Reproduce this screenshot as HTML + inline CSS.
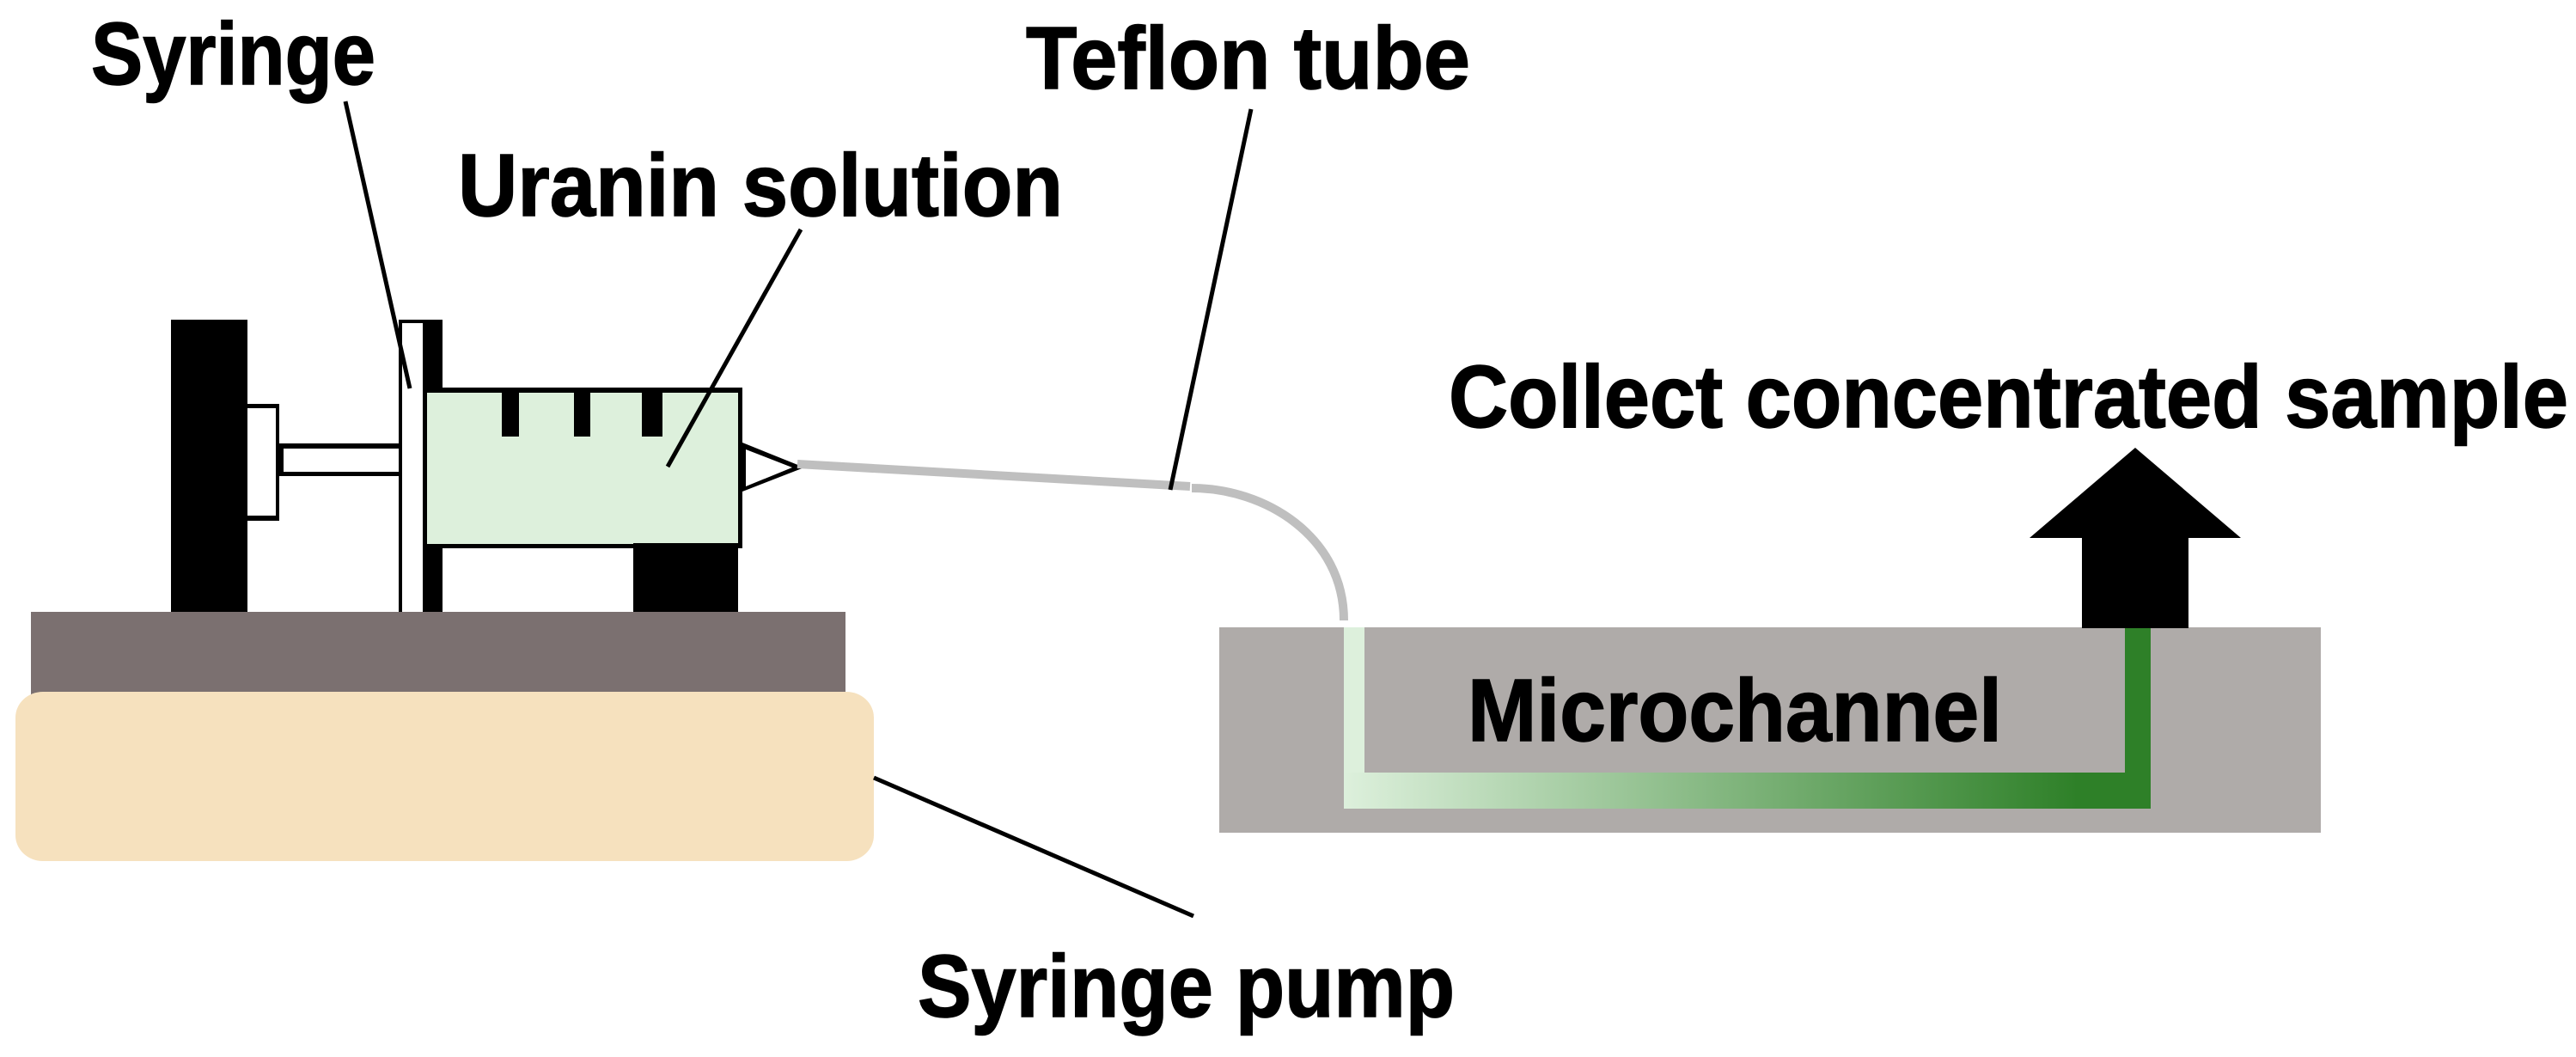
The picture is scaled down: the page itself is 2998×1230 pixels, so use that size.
<!DOCTYPE html>
<html>
<head>
<meta charset="utf-8">
<style>
html,body{margin:0;padding:0;background:#fff;width:2998px;height:1230px;overflow:hidden}
svg{display:block}
text{font-family:"Liberation Sans",sans-serif;font-weight:700;font-size:103px;fill:#000;stroke:#000;stroke-width:1.5px}
</style>
</head>
<body>
<svg width="2998" height="1230" viewBox="0 0 2998 1230" xmlns="http://www.w3.org/2000/svg">
<defs>
<linearGradient id="g" gradientUnits="userSpaceOnUse" x1="1564" y1="0" x2="2503" y2="0">
<stop offset="0" stop-color="#DDF0DC"/>
<stop offset="0.91" stop-color="#2E8028"/>
<stop offset="1" stop-color="#2E8028"/>
</linearGradient>
</defs>
<rect width="2998" height="1230" fill="#fff"/>

<!-- pump base -->
<rect x="36" y="712" width="948" height="100" fill="#7B7070"/>
<rect x="18" y="805" width="999" height="197" rx="32" ry="30" fill="#F6E1BE"/>

<!-- pusher post -->
<rect x="199" y="372" width="89" height="340" fill="#000"/>
<!-- plunger head -->
<rect x="288" y="470" width="37" height="136" fill="#000"/>
<rect x="288" y="475" width="33" height="125" fill="#fff"/>
<!-- plunger rod -->
<rect x="325" y="516" width="140" height="38" fill="#000"/>
<rect x="330" y="522" width="135" height="27" fill="#fff"/>
<!-- plate -->
<rect x="464" y="372" width="51" height="340" fill="#000"/>
<rect x="468" y="376" width="24" height="336" fill="#fff"/>
<!-- foot -->
<rect x="737" y="632" width="122" height="80" fill="#000"/>
<!-- barrel -->
<rect x="493" y="451" width="371" height="187" fill="#000"/>
<rect x="497" y="457" width="362" height="176" fill="#DDF0DC"/>
<rect x="737" y="632" width="122" height="6" fill="#000"/>
<!-- ticks -->
<rect x="584" y="457" width="20" height="51" fill="#000"/>
<rect x="668" y="457" width="19" height="51" fill="#000"/>
<rect x="747" y="457" width="24" height="51" fill="#000"/>
<!-- nozzle -->
<polygon points="864,515 936,544 864,572" fill="#000"/>
<polygon points="868,523 922,544 868,566" fill="#fff"/>

<!-- tube -->
<path d="M928 540 L1385 566" stroke="#BFBFBF" stroke-width="10" fill="none"/>
<path d="M1387 568 C1472 568 1564 624 1564 722" stroke="#BFBFBF" stroke-width="10" fill="none"/>

<!-- microchannel block -->
<rect x="1419" y="730" width="1282" height="239" fill="#AFABA9"/>
<rect x="1564" y="730" width="24" height="170" fill="#DDF0DC"/>
<rect x="2473" y="730" width="30" height="170" fill="#2E8028"/>
<rect x="1564" y="899" width="939" height="42" fill="url(#g)"/>

<!-- arrow -->
<polygon points="2485,521 2608,626 2547,626 2547,731 2423,731 2423,626 2362,626" fill="#000"/>

<!-- leader lines -->
<g stroke="#000" fill="none" stroke-width="5">
<line x1="402" y1="118" x2="477" y2="452"/>
<line x1="932" y1="267" x2="777" y2="543"/>
<line x1="1456" y1="127" x2="1362" y2="570"/>
<line x1="1017" y1="905" x2="1389" y2="1066"/>
</g>

<!-- labels -->
<text x="106" y="98" textLength="331" lengthAdjust="spacingAndGlyphs">Syringe</text>
<text x="1194" y="103" textLength="517" lengthAdjust="spacingAndGlyphs">Teflon tube</text>
<text x="533" y="251" textLength="704" lengthAdjust="spacingAndGlyphs">Uranin solution</text>
<text x="1686" y="497" textLength="1303" lengthAdjust="spacingAndGlyphs">Collect concentrated sample</text>
<text x="1708" y="862" textLength="622" lengthAdjust="spacingAndGlyphs">Microchannel</text>
<text x="1068" y="1183" textLength="625" lengthAdjust="spacingAndGlyphs">Syringe pump</text>
</svg>
</body>
</html>
